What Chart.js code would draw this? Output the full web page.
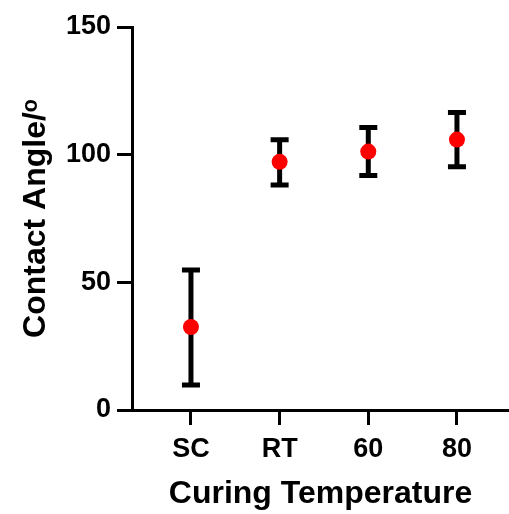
<!DOCTYPE html>
<html>
<head>
<meta charset="utf-8">
<script src="https://cdn.jsdelivr.net/npm/chart.js@4"></script>
<style>
html,body{margin:0;padding:0;background:#fff;}
#wrap{width:509px;height:514px;position:relative;}
</style>
</head>
<body>
<div id="wrap"><canvas id="c" width="509" height="514"></canvas></div>
<script>
const categories = ['SC', 'RT', '60', '80'];
const means = [32.5, 97.2, 101.2, 105.9];
const errLow = [9.8, 88.1, 91.8, 95.3];
const errHigh = [54.8, 105.8, 110.6, 116.5];
const yTicks = [0, 50, 100, 150];

const FONT = "'Liberation Sans', Arial, sans-serif";

const errorBars = {
  id: 'errorBars',
  beforeDatasetsDraw(chart) {
    const ctx = chart.ctx;
    const xs = chart.scales.x, ys = chart.scales.y;
    ctx.save();
    ctx.strokeStyle = '#000';
    ctx.lineCap = 'butt';
    categories.forEach((c, i) => {
      const x = xs.getPixelForValue(i);
      const yl = ys.getPixelForValue(errLow[i]);
      const yh = ys.getPixelForValue(errHigh[i]);
      ctx.lineWidth = 5;
      ctx.beginPath();
      ctx.moveTo(x, yl); ctx.lineTo(x, yh);
      ctx.stroke();
      ctx.beginPath();
      ctx.moveTo(x - 9, yl); ctx.lineTo(x + 9, yl);
      ctx.moveTo(x - 9, yh); ctx.lineTo(x + 9, yh);
      ctx.stroke();
    });
    ctx.restore();
  }
};

new Chart(document.getElementById('c'), {
  type: 'scatter',
  data: {
    datasets: [{
      data: means.map((m, i) => ({x: i, y: m})),
      backgroundColor: '#ff0000',
      borderWidth: 0,
      pointRadius: 8,
      pointHoverRadius: 8
    }]
  },
  options: {
    responsive: false,
    animation: false,
    events: [],
    layout: {autoPadding: false, padding: {top: 27, right: 0, left: 0, bottom: 0}},
    plugins: {legend: {display: false}, tooltip: {enabled: false}},
    scales: {
      x: {
        type: 'linear',
        min: -0.665,
        max: 3.587,
        afterBuildTicks(scale) { scale.ticks = categories.map((c, i) => ({value: i})); },
        afterFit(scale) { scale.height = 104; scale.paddingRight = 0; scale.paddingLeft = 0; },
        border: {display: true, color: '#000', width: 3},
        grid: {drawOnChartArea: false, drawTicks: true, tickLength: 15, color: '#000', tickWidth: 3},
        ticks: {
          color: '#000',
          font: {family: FONT, size: 27, weight: 'bold'},
          padding: 8,
          maxRotation: 0,
          autoSkip: false,
          callback: (v) => categories[v]
        },
        title: {
          display: true,
          text: 'Curing Temperature',
          color: '#000',
          font: {family: FONT, size: 32, weight: 'bold'},
          padding: {top: 0, bottom: 1}
        }
      },
      y: {
        type: 'linear',
        min: 0,
        max: 150,
        afterBuildTicks(scale) { scale.ticks = yTicks.map(v => ({value: v})); },
        afterFit(scale) { scale.width = 132; },
        border: {display: true, color: '#000', width: 3},
        grid: {drawOnChartArea: false, drawTicks: true, tickLength: 15, color: '#000', tickWidth: 3},
        ticks: {
          color: '#000',
          font: {family: FONT, size: 27, weight: 'bold'},
          padding: 6
        },
        title: {
          display: true,
          text: 'Contact Angle/ᵒ',
          color: '#000',
          font: {family: FONT, size: 32, weight: 'bold'},
          padding: {top: 17, bottom: 0}
        }
      }
    }
  },
  plugins: [errorBars]
});
</script>
</body>
</html>
